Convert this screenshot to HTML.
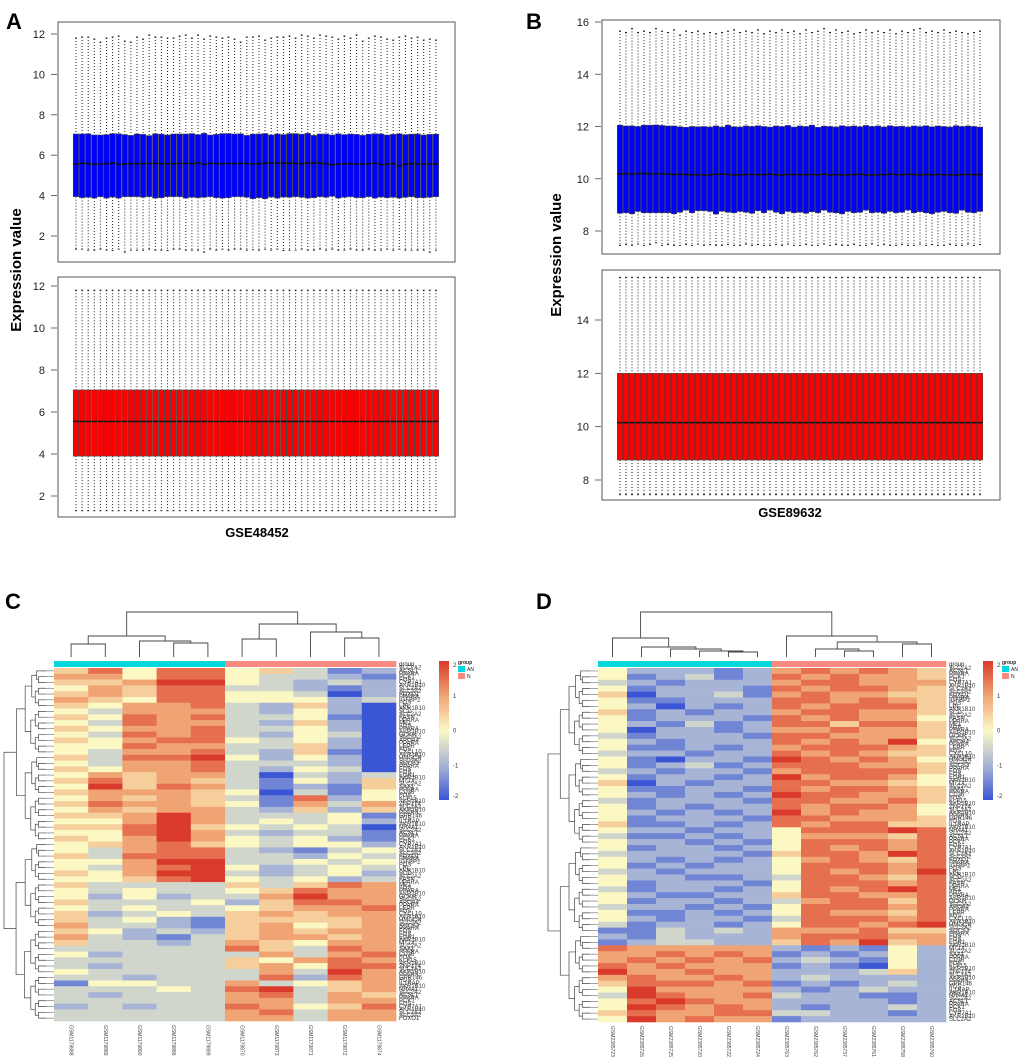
<!DOCTYPE html>
<html><head><meta charset="utf-8"><title>Expression boxplots and heatmaps</title>
<style>
html,body{margin:0;padding:0;background:#fff;}
svg{display:block;font-family:"Liberation Sans",sans-serif;}
</style></head>
<body>
<svg id="fig" width="1020" height="1057" viewBox="0 0 1020 1057" xmlns="http://www.w3.org/2000/svg">
<rect width="1020" height="1057" fill="#fff"/>
<text x="6" y="29" font-size="22" font-weight="bold">A</text>
<text x="526" y="29" font-size="22" font-weight="bold">B</text>
<text x="5" y="609" font-size="22" font-weight="bold">C</text>
<text x="536" y="609" font-size="22" font-weight="bold">D</text>
<text transform="translate(21,270) rotate(-90)" text-anchor="middle" font-size="15" font-weight="bold">Expression value</text>
<text transform="translate(561,255) rotate(-90)" text-anchor="middle" font-size="15" font-weight="bold">Expression value</text>
<text x="257" y="537" text-anchor="middle" font-size="13" font-weight="bold">GSE48452</text>
<text x="790" y="517" text-anchor="middle" font-size="13" font-weight="bold">GSE89632</text>
<g id="layer"></g>
</svg>
<script>
// ---------- Boxplot data ----------
const aTopMed = [5.55,5.6,5.58,5.55,5.57,5.58,5.62,5.55,5.56,5.58,5.58,5.58,5.58,5.6,5.58,5.58,5.58,5.58,5.6,5.58,5.62,5.55,5.6,5.58,5.58,5.59,5.58,5.6,5.58,5.57,5.58,5.6,5.62,5.6,5.6,5.6,5.6,5.58,5.6,5.62,5.6,5.58,5.52,5.56,5.58,5.58,5.55,5.56,5.58,5.6,5.55,5.56,5.58,5.48,5.56,5.58,5.58,5.56,5.57,5.56];
const aTopQ3 = [7.05,7.05,7.06,7.0,7.0,7.02,7.07,7.06,7.02,6.98,7.05,7.03,6.97,7.06,7.04,7.0,7.05,7.05,7.05,7.07,7.02,7.08,7.0,7.03,7.07,7.07,7.05,7.06,6.98,7.04,7.05,7.07,7.0,7.05,7.02,7.07,7.07,7.04,7.08,6.98,7.05,7.05,7.0,7.06,7.02,7.05,7.03,6.98,7.04,7.06,7.05,7.0,7.03,7.06,7.02,7.04,7.05,7.0,7.03,7.04];
const aTopQ1 = [3.95,3.9,3.92,3.88,3.95,3.88,3.93,3.88,3.95,3.95,3.95,3.92,3.95,3.88,3.9,3.95,3.95,3.95,3.88,3.92,3.9,3.92,3.95,3.9,3.88,3.9,3.95,3.95,3.92,3.85,3.9,3.85,3.93,3.88,3.93,3.92,3.95,3.92,3.88,3.9,3.95,3.92,3.97,3.88,3.92,3.95,3.9,3.9,3.95,3.88,3.93,3.9,3.92,3.88,3.92,3.95,3.9,3.9,3.92,3.95];
const aTopHi = [11.8,11.85,11.85,11.75,11.6,11.8,11.85,11.9,11.65,11.6,11.85,11.75,11.95,11.85,11.85,11.8,11.8,11.9,11.95,11.8,11.95,11.75,11.9,11.85,11.8,11.85,11.75,11.6,11.85,11.85,11.9,11.7,11.8,11.85,11.85,11.9,11.8,11.95,11.9,11.8,11.95,11.9,11.85,11.75,11.9,11.8,11.95,11.65,11.8,11.9,11.85,11.75,11.7,11.85,11.9,11.8,11.85,11.7,11.75,11.7];
const aTopLo = [1.35,1.35,1.3,1.3,1.35,1.3,1.28,1.35,1.2,1.3,1.3,1.3,1.35,1.3,1.3,1.28,1.35,1.35,1.3,1.3,1.3,1.2,1.35,1.3,1.35,1.3,1.35,1.35,1.3,1.32,1.3,1.35,1.3,1.35,1.28,1.3,1.3,1.35,1.3,1.3,1.35,1.3,1.35,1.3,1.3,1.35,1.3,1.3,1.35,1.3,1.3,1.35,1.3,1.35,1.3,1.3,1.3,1.3,1.2,1.3];
const aBotStats = [1.3, 3.9, 5.55, 7.05, 11.8]; // lower, Q1, median, Q3, upper
const aBotCount = 60;

const bTopMed = [10.18,10.2,10.18,10.2,10.2,10.18,10.2,10.19,10.18,10.16,10.18,10.16,10.15,10.16,10.14,10.15,10.17,10.18,10.16,10.14,10.15,10.16,10.17,10.15,10.16,10.18,10.15,10.14,10.16,10.17,10.15,10.16,10.16,10.15,10.17,10.14,10.16,10.15,10.15,10.16,10.17,10.15,10.14,10.16,10.15,10.18,10.16,10.15,10.17,10.16,10.14,10.16,10.15,10.17,10.15,10.16,10.14,10.16,10.17,10.15,10.16];
const bTopQ3 = [12.05,12.02,12.02,12.0,12.05,12.05,12.06,12.04,12.02,12.02,11.99,11.97,12.0,11.99,12.0,11.98,12.02,11.98,12.05,11.99,11.98,12.02,12.0,12.03,12.0,11.98,12.02,12.0,12.04,11.98,12.02,12.0,12.05,11.97,12.01,12.0,11.98,12.03,12.0,12.02,11.99,12.04,12.0,12.02,11.98,12.03,12.0,12.01,11.98,12.02,12.0,12.03,11.99,12.02,12.0,11.98,12.03,12.0,12.02,12.0,11.98];
const bTopQ1 = [8.68,8.7,8.66,8.75,8.7,8.7,8.7,8.7,8.7,8.66,8.72,8.8,8.7,8.78,8.78,8.75,8.65,8.76,8.72,8.7,8.75,8.72,8.68,8.78,8.7,8.8,8.72,8.66,8.75,8.7,8.72,8.68,8.74,8.7,8.8,8.72,8.7,8.66,8.75,8.7,8.72,8.8,8.7,8.72,8.68,8.75,8.7,8.72,8.8,8.7,8.74,8.7,8.66,8.72,8.75,8.7,8.68,8.8,8.72,8.7,8.75];
const bTopHi = [15.65,15.6,15.75,15.6,15.65,15.6,15.75,15.65,15.6,15.7,15.5,15.65,15.6,15.65,15.55,15.6,15.55,15.6,15.65,15.7,15.6,15.65,15.6,15.7,15.55,15.65,15.6,15.7,15.6,15.65,15.55,15.7,15.6,15.65,15.75,15.6,15.7,15.6,15.65,15.55,15.6,15.7,15.6,15.65,15.6,15.7,15.55,15.65,15.6,15.7,15.75,15.6,15.65,15.6,15.7,15.6,15.65,15.6,15.55,15.6,15.65];
const bTopLo = [7.45,7.48,7.45,7.5,7.45,7.48,7.55,7.45,7.48,7.45,7.45,7.48,7.45,7.5,7.45,7.48,7.45,7.45,7.48,7.45,7.45,7.5,7.45,7.48,7.45,7.45,7.48,7.45,7.5,7.45,7.45,7.48,7.45,7.45,7.5,7.45,7.48,7.45,7.45,7.48,7.45,7.45,7.5,7.45,7.48,7.45,7.45,7.48,7.45,7.45,7.5,7.45,7.48,7.45,7.45,7.48,7.45,7.45,7.5,7.45,7.48];
const bBotStats = [7.45, 8.75, 10.15, 12.0, 15.6];
const bBotCount = 61;

// ---------- Heatmap data (digits 0..8 => -2..2) ----------
const cColumns = ["GSM1179888","GSM1179889","GSM1179890","GSM1179886","GSM1179899","GSM1179870","GSM1179873","GSM1179871","GSM1179872","GSM1179874"];
const cRows = ["5747745312","6647743321","5568843232","4657733212","5657744302","6547744423",
"5466732520","4366632420","5476733410","4376632520","5466733420","4376732430","5467743420","4476633520","4366732510","5377842420","4366733320","5466732430",
"4656630323","5756531425","4857631215","5666540314","4656531724","5766541636","4656632525",
"5568633341","4468634342","5578543430","4478632331","5468643421","4567543442",
"4367732134","5377733243","4468833434","4367842343","5468832342","4457843423",
"5333353576","4343345766","4242336866","5333425776","4343345667","5234356566",
"5342155556","6332156456","5423256566","6321356656","5332365466",
"3333375376","4233336367","3333354676","3233356477","4333336386","3323337276",
"1443363456","3334378356","3233367365","3333366366","2323376457","3333367366","3333366366"];
const dColumns = ["GSM2385723","GSM2385726","GSM2385725","GSM2385720","GSM2385722","GSM2385724","GSM2385763","GSM2385762","GSM2385737","GSM2385761","GSM2385758","GSM2385760"];
const dRows = ["422212676765","412312767665","321222677666","412221767765","502231676655","411222776765","420212767775","512122677665","412221767664","421312775775","402212667665","312221776665","421222767684","411212677765","322122767655","410221876764","412312777665","321221677775","412212867764","502122776654","411221767765","421212877665","312221776675","412122767764","421212867664","412221776665","511212767755",
"422122477787","311212466657","422121477767","412212476767","322221577687","421212467657","412122477767","321222476768","422112377657","412221477767","312212476787","421122577667","412212367757","322121477767","411212476657","421221377767","312212477678",
"113232666755","213222677766","123322576856",
"766666212142","667676121242","676767232142","767666121042","866766222352","676676232222","577767121232","486666212322","387667322112","478766222212","487676212232","576677332212","486766122222"];
const cGroups = ["AN","AN","AN","AN","AN","N","N","N","N","N"];
const dGroups = ["AN","AN","AN","AN","AN","AN","N","N","N","N","N","N"];
const geneNames = ["ACSL1","PCK1","CYP7A1","SLC2A2","FOXO1","IGFBP2","LPL","SCD","FASN","ME1","PPARA","GCKR","APOA4","LEPR","CXCL10","HMGCR","SOCS3","FOS","EGR1","MT1X","SAA1","CD36","KLF15","ZNF174","AKR1B10","GPR146","IL1RAP","NR4A1"];
const legendTicks = [2,1,0,-1,-2];

// ---------- helpers ----------
const NS = "http://www.w3.org/2000/svg";
const layer = document.getElementById('layer');
function mk(tag, attrs, parent){ const e=document.createElementNS(NS,tag); for(const k in attrs) e.setAttribute(k,attrs[k]); (parent||layer).appendChild(e); return e; }
function linScale(d0,d1,r0,r1){ return v => r0 + (v-d0)/(d1-d0)*(r1-r0); }

function drawAxis(g, scale, ticks, xAxis, name){
  const ax = mk('g',{},g);
  
  
  ticks.forEach(t=>{
    mk('line',{x1:xAxis-7,x2:xAxis-1,y1:scale(t),y2:scale(t),stroke:'#444','stroke-width':0.8},ax);
    const tx = mk('text',{x:xAxis-13,y:scale(t)+4,'text-anchor':'end','font-size':11,fill:'#222'},ax);
    tx.textContent = t;
    
    
  });
}

function drawBoxes(g, n, getStats, cx0, pitch, scale, fill, name){
  for(let i=0;i<n;i++){
    const s = getStats(i);
    const cx = cx0 + i*pitch, w = pitch*0.9;
    const bx = mk('g',{},g);
    
    
    mk('line',{x1:cx,x2:cx,y1:scale(s[4]),y2:scale(s[3]),stroke:'#222','stroke-width':1,'stroke-dasharray':'1,2'},bx);
    mk('line',{x1:cx,x2:cx,y1:scale(s[1]),y2:scale(s[0]),stroke:'#222','stroke-width':1,'stroke-dasharray':'1,2'},bx);
    mk('line',{x1:cx-1,x2:cx+1,y1:scale(s[4]),y2:scale(s[4]),stroke:'#222','stroke-width':1},bx);
    mk('line',{x1:cx-1,x2:cx+1,y1:scale(s[0]),y2:scale(s[0]),stroke:'#222','stroke-width':1},bx);
    mk('rect',{x:cx-w/2,y:scale(s[3]),width:w,height:scale(s[1])-scale(s[3]),fill:fill,stroke:'#444','stroke-width':0.6},bx);
    mk('line',{x1:cx-w/2,x2:cx+w/2,y1:scale(s[2]),y2:scale(s[2]),stroke:'#111','stroke-width':1.6},bx);
  }
}

function frame(x,y,w,h,name){
  const r = mk('rect',{x:x,y:y,width:w,height:h,fill:'none',stroke:'#555','stroke-width':1});
  
  
}

// ---------- Panel A ----------
(function(){
  const gA = mk('g',{});  
  frame(58,22,397,240,'plot-frame-a-top');
  const yT = linScale(2,12,236,34);
  drawAxis(gA,yT,[2,4,6,8,10,12],58,'y-axis-a-top');
  drawBoxes(gA,aTopMed.length,i=>[aTopLo[i],aTopQ1[i],aTopMed[i],aTopQ3[i],aTopHi[i]],76,6.1,yT,'#0000FF','box-a-raw');
  frame(58,277,397,240,'plot-frame-a-bottom');
  const yB = linScale(2,12,496,286);
  drawAxis(gA,yB,[2,4,6,8,10,12],58,'y-axis-a-bottom');
  drawBoxes(gA,aBotCount,i=>aBotStats,76,6.1,yB,'#FF0000','box-a-normalized');
})();
// ---------- Panel B ----------
(function(){
  const gB = mk('g',{});  
  frame(602,20,398,234,'plot-frame-b-top');
  const yT = linScale(8,16,231,22);
  drawAxis(gB,yT,[8,10,12,14,16],602,'y-axis-b-top');
  drawBoxes(gB,bTopMed.length,i=>[bTopLo[i],bTopQ1[i],bTopMed[i],bTopQ3[i],bTopHi[i]],620,6.0,yT,'#0000FF','box-b-raw');
  frame(602,270,398,230,'plot-frame-b-bottom');
  const yB = linScale(8,14,480,320);
  drawAxis(gB,yB,[8,10,12,14],602,'y-axis-b-bottom');
  drawBoxes(gB,bBotCount,i=>bBotStats,620,6.0,yB,'#FF0000','box-b-normalized');
})();

// ---------- Heatmaps ----------
const stops = [[-2,[58,86,212]],[-1,[167,180,214]],[0,[251,248,196]],[1,[240,164,115]],[2,[217,58,43]]];
function col(v){
  v=Math.max(-2,Math.min(2,v));
  for(let i=0;i<stops.length-1;i++){
    const a=stops[i],b=stops[i+1];
    if(v<=b[0]){ const t=(v-a[0])/(b[0]-a[0]); const c=a[1].map((x,k)=>Math.round(x+(b[1][k]-x)*t)); return 'rgb('+c.join(',')+')'; }
  }
}
function cellVal(ch){ return (parseInt(ch,10)-4)/2; }

function heatmap(cfg){
  const g = mk('g',{});  
  const nC = cfg.cols.length, nR = cfg.rows.length;
  const cw = (cfg.x1-cfg.x0)/nC, rh = (cfg.y1-cfg.y0)/nR;
  const xC = i => cfg.x0 + i*cw, yR = j => cfg.y0 + j*rh;
  cfg.rows.forEach((row,j)=>{
    for(let i=0;i<nC;i++){
      const r = mk('rect',{x:xC(i),y:yR(j),width:cw+0.3,height:rh+0.3,fill:col(cellVal(row[i]))},g);
      
      
    }
    const lbl = mk('text',{x:cfg.x1+3,y:yR(j)+rh*0.8,'font-size':6,fill:'#333'},g);
    lbl.textContent = geneNames[j % geneNames.length];
    
    
    const lbl2 = mk('text',{x:cfg.x1+3,y:yR(j)+rh*0.3,'font-size':6,fill:'#444'},g);
    lbl2.textContent = geneNames[(j*7+3) % geneNames.length];
    
    
  });
  cfg.groups.forEach((gr,i)=>{
    const r = mk('rect',{x:xC(i),y:cfg.y0-7,width:cw+0.3,height:6,fill:gr==='AN'?'#00D8DC':'#FA8A80'},g);
    
    
  });
  const gt = mk('text',{x:cfg.x1+3,y:cfg.y0-2,'font-size':6,fill:'#222'},g); gt.textContent='group';
   
  cfg.cols.forEach((c,i)=>{
    const t = mk('text',{transform:'translate('+(xC(i)+cw/2-1.5)+','+(cfg.y1+4)+') rotate(90)','font-size':5,fill:'#444'},g);
    t.textContent = c;
    
    
  });
  const leafY = cfg.y0-11;
  const leaf = i => ({x:xC(i)+cw/2, y:leafY});
  function link(a,b,y){
    mk('path',{d:'M'+a.x+','+a.y+'V'+y+'H'+b.x+'V'+b.y,fill:'none',stroke:'#444','stroke-width':0.9},g);
    return {x:(a.x+b.x)/2,y:y};
  }
  cfg.colTree(leaf,link);
  function rowTree(lo,hi){
    if(hi-lo===1){ const y=yR(lo)+rh/2; mk('line',{x1:cfg.x0-8,x2:cfg.x0,y1:y,y2:y,stroke:'#666','stroke-width':0.6},g); return {x:cfg.x0-8,y:y}; }
    const mid = Math.floor((lo+hi)/2);
    const a=rowTree(lo,mid), b=rowTree(mid,hi);
    const x = cfg.x0-8 - (cfg.x0-8-cfg.rootX)*Math.sqrt((hi-lo)/nR);
    mk('path',{d:'M'+a.x+','+a.y+'H'+x+'V'+b.y+'H'+b.x,fill:'none',stroke:'#444','stroke-width':0.7},g);
    return {x:x,y:(a.y+b.y)/2};
  }
  rowTree(0,nR);
  const lg = mk('g',{},g);  
  const gid = cfg.name+'-grad';
  const defs = mk('defs',{},lg);
  const grad = mk('linearGradient',{id:gid,x1:0,y1:0,x2:0,y2:1},defs);
  stops.slice().reverse().forEach((s,k)=>mk('stop',{offset:(k/4),'stop-color':'rgb('+s[1].join(',')+')'},grad));
  mk('rect',{x:cfg.lx,y:661,width:10,height:139,fill:'url(#'+gid+')'},lg);
  legendTicks.forEach(t=>{
    const tx = mk('text',{x:cfg.lx+14,y:661+ (2-t)/4*139 + (t===2?6:t===-2?-2:2),'font-size':6,fill:'#333'},lg);
    tx.textContent = t;
     
  });
  const gl = mk('text',{x:cfg.lx+19,y:664,'font-size':5,'font-weight':'bold',fill:'#222'},lg); gl.textContent='group';
  mk('rect',{x:cfg.lx+19,y:666,width:7,height:6,fill:'#00D8DC'},lg);
  mk('rect',{x:cfg.lx+19,y:673,width:7,height:6,fill:'#FA8A80'},lg);
  const a1 = mk('text',{x:cfg.lx+28,y:671,'font-size':5,fill:'#222'},lg); a1.textContent='AN';
   
  const a2 = mk('text',{x:cfg.lx+28,y:678,'font-size':5,fill:'#222'},lg); a2.textContent='N';
   
}

heatmap({name:'heatmap-c',cols:cColumns,rows:cRows,groups:cGroups,x0:54,x1:396,y0:668,y1:1021,rootX:4,lx:439,
  colTree:(L,link)=>{
    const a=link(L(0),L(1),644), b45=link(L(3),L(4),643), b=link(L(2),b45,641), left=link(a,b,636);
    const c=link(L(5),L(6),639), d=link(L(8),L(9),638), e=link(L(7),d,632), right=link(c,e,624);
    link(left,right,612);
  }});
heatmap({name:'heatmap-d',cols:dColumns,rows:dRows,groups:dGroups,x0:598,x1:946,y0:668,y1:1022,rootX:548,lx:983,
  colTree:(L,link)=>{
    const a=link(L(4),L(5),652), b=link(L(3),a,651), c=link(L(2),b,649), d=link(L(1),c,647), left=link(L(0),d,638);
    const e=link(L(8),L(9),651), f=link(L(7),e,649), h=link(L(10),L(11),644), k=link(f,h,642), right=link(L(6),k,636);
    link(left,right,612);
  }});
</script>
</body></html>
